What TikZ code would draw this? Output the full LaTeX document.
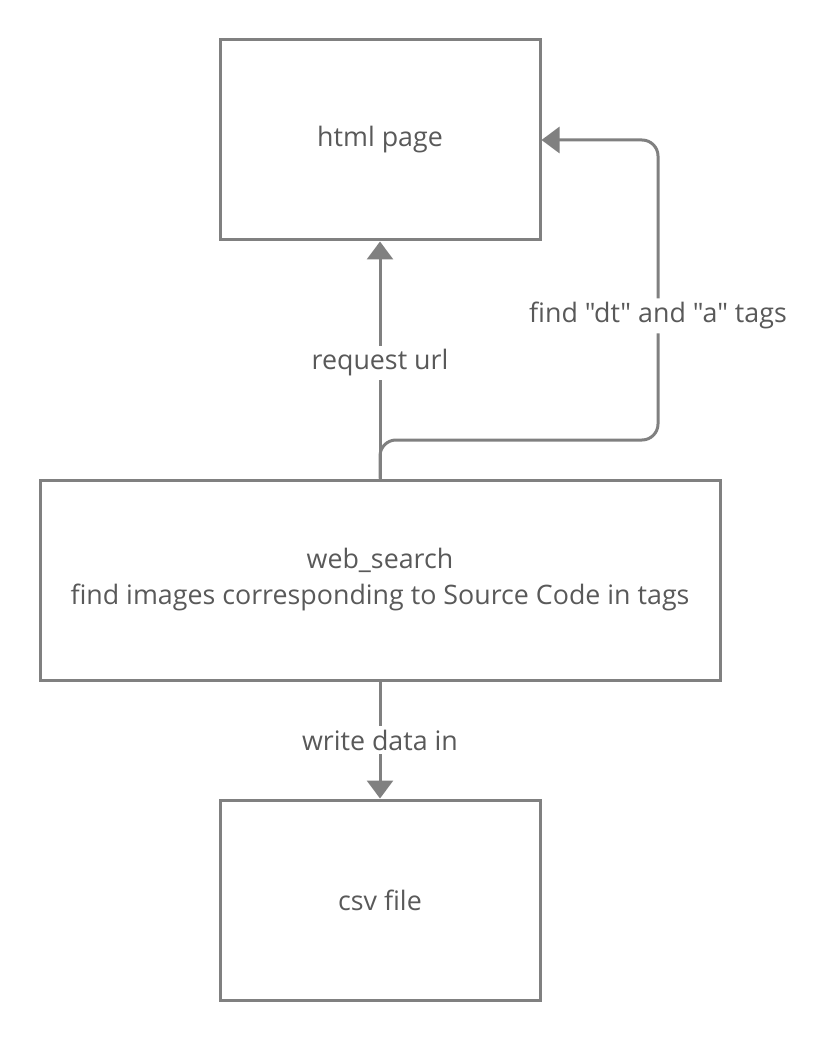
\documentclass[tikz,border=0pt]{standalone}
\usepackage{fontspec}
\setmainfont{Open Sans}[Ligatures=TeXOff]
\usetikzlibrary{arrows.meta}
\definecolor{linegray}{HTML}{808080}
\definecolor{textgray}{HTML}{595959}
\begin{document}
\begin{tikzpicture}[x=1pt,y=-1pt,
  box/.style={draw=linegray,line width=3pt,minimum width=320pt,minimum height=200pt,inner sep=0pt,text=textgray,font=\fontsize{26.8}{36}\selectfont,align=center},
  conn/.style={draw=linegray,line width=3pt,-{Triangle[length=18pt,width=26pt]}},
  lbl/.style={fill=white,text=textgray,font=\fontsize{26.8}{32}\selectfont,inner sep=4pt}]
\useasboundingbox (0,0) rectangle (835,1040);
\node[box] (html) at (380,140) {html page};
\node[box,minimum width=680pt] (web) at (380,580) {web\_search\\find images corresponding to Source Code in tags};
\node[box] (csv) at (380,900) {csv file};
\draw[conn] (web.north) -- (html.south) node[lbl,pos=0.5,yshift=-3pt] {request url};
\draw[conn,rounded corners=16pt] (web.north) |- (658,440) |- (html.east) node[lbl,pos=0.212,yshift=-3pt] {find "dt" and "a" tags};
\draw[conn] (web.south) -- (csv.north) node[lbl,pos=0.5] {write data in};
\end{tikzpicture}
\end{document}
